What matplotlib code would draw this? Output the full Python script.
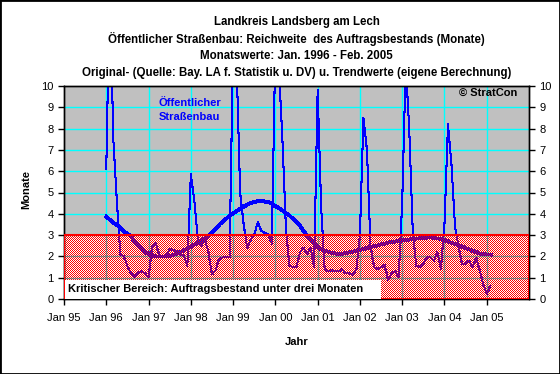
import numpy as np
import matplotlib
matplotlib.use('Agg')
import matplotlib.pyplot as plt
from matplotlib.patches import Rectangle

plt.rcParams['font.family'] = ['Liberation Sans', 'DejaVu Sans']

# Monthly original values (Reichweite in Monaten), Jan 1996 - Feb 2005
vals_1996 = [6.1, 15.0, 7.5, 4.6, 2.1, 2.0, 1.55, 1.2, 1.05, 1.25, 1.3, 1.2]
vals_1997 = [1.0, 2.45, 2.65, 2.1, 1.95, 2.0, 2.35, 2.3, 2.25, 2.1, 2.05, 1.55]
vals_1998 = [5.85, 4.6, 2.8, 2.5, 2.8, 2.2, 1.15, 1.35, 1.85, 1.95, 1.95, 1.95]
vals_1999 = [12.0, 11.0, 5.0, 3.5, 2.4, 2.8, 3.0, 3.6, 3.2, 3.1, 3.05, 2.6]
vals_2000 = [12.0, 10.8, 7.5, 3.3, 1.55, 1.5, 1.5, 2.2, 2.4, 2.1, 2.4, 1.5]
vals_2001 = [9.8, 4.3, 1.4, 1.3, 1.35, 1.3, 1.3, 1.4, 1.2, 1.2, 1.15, 1.4]
vals_2002 = [3.0, 8.5, 7.0, 2.5, 1.5, 1.4, 1.5, 1.6, 0.9, 1.2, 1.3, 1.05]
vals_2003 = [4.5, 11.0, 8.0, 3.2, 1.55, 1.5, 1.65, 1.95, 1.95, 1.8, 2.2, 1.4]
vals_2004 = [3.5, 8.2, 6.3, 3.4, 2.45, 1.65, 1.65, 1.8, 1.5, 1.95, 1.35, 0.7]
vals_2005 = [0.25, 0.6]

original = (vals_1996 + vals_1997 + vals_1998 + vals_1999 + vals_2000 +
            vals_2001 + vals_2002 + vals_2003 + vals_2004 + vals_2005)
months = 1996 + np.arange(len(original)) / 12.0

# Trend, decimal year -> months
trend_time = [1996.0, 1996.16, 1996.32, 1996.44, 1996.56, 1996.72, 1996.87,
              1997.03, 1997.19, 1997.35, 1997.51, 1997.66, 1997.82, 1997.98,
              1998.45, 1998.69, 1998.92, 1999.16, 1999.40, 1999.63, 1999.87,
              2000.11, 2000.34, 2000.58, 2000.74, 2000.89, 2001.05, 2001.29,
              2001.52, 2001.76, 2002.0, 2002.23, 2002.71, 2003.18, 2003.65,
              2003.96, 2004.24, 2004.36, 2004.55, 2004.87, 2005.11]
trend_vals = [3.86, 3.6, 3.37, 3.13, 3.0, 2.58, 2.27,
              2.08, 1.99, 1.99, 2.03, 2.11, 2.27, 2.43,
              3.0, 3.52, 3.91, 4.23, 4.5, 4.62, 4.53,
              4.23, 3.91, 3.44, 3.0, 2.66, 2.35, 2.19,
              2.11, 2.19, 2.3, 2.43, 2.66, 2.8, 2.9,
              2.8, 2.58, 2.5, 2.35, 2.11, 2.08]

crit_level = 3
year_ticks = list(range(1995, 2006))
year_labels = ['Jan %02d' % (y % 100) for y in year_ticks]

fig = plt.figure(figsize=(5.6, 3.74), dpi=100)
ax = fig.add_axes([64 / 560, 75 / 374, 465 / 560, 213 / 374])
ax.set_facecolor('#c0c0c0')
ax.set_xlim(1995, 2006)
ax.set_ylim(0, 10)

# white base below the red critical zone
ax.add_patch(Rectangle((1995, 0), 11, crit_level, facecolor='white',
                       edgecolor='none', zorder=0.5))

# cyan grid
for y in range(1, 10):
    ax.axhline(y, color='#00ffff', lw=1.0, zorder=1)
for x in year_ticks[1:]:
    ax.axvline(x, color='#00ffff', lw=1.0, zorder=1)

ax.plot(months, original, color='#0000ff', lw=0.75, zorder=2,
        antialiased=False)
ax.plot(trend_time, trend_vals, color='#0000ff', lw=2.0, zorder=3,
        antialiased=False)

ax.set_xticks(year_ticks)
ax.set_xticklabels(year_labels)
ax.set_yticks(range(0, 11))
ax.tick_params(direction='out', length=4, labelsize=8, width=1)
ax.tick_params(axis='x', pad=6)

# second axes on top: right ticks + overlays above the dither pattern
ax2 = ax.twinx()
ax2.set_ylim(0, 10)
ax2.set_yticks(range(0, 11))
ax2.tick_params(direction='out', length=4, labelsize=8, width=1)
ax.set_zorder(0)
ax2.set_zorder(2)

# dithered red pattern (like the excel pattern fill), placed 1:1 in pixels
x0, y0 = ax.transData.transform((1995, 0))
x1, y1 = ax.transData.transform((2006, crit_level))
w, h = int(round(x1 - x0)), int(round(y1 - y0))
ii, jj = np.indices((h, w))
checker = np.zeros((h, w, 4))
checker[(ii + jj) % 2 == 0] = [1.0, 0.0, 0.0, 1.0]
fig.figimage(checker, xo=int(round(x0)), yo=int(round(y0)), origin='lower',
             zorder=1)

ax2.add_patch(Rectangle((1995, 0), 11, crit_level, fill=False,
                        edgecolor='#ff0000', lw=1.5, zorder=5))

# label box for the critical zone
ax2.add_patch(Rectangle((0.003, 0.0), 0.679, 0.089, transform=ax2.transAxes,
                        facecolor='white', edgecolor='none', zorder=6))
ax2.text(0.009, 0.046, 'Kritischer Bereich: Auftragsbestand unter drei Monaten',
         transform=ax2.transAxes, fontsize=8, fontweight='bold', va='center',
         ha='left', zorder=7)

ax2.text(0.204, 0.944, 'Öffentlicher\nStraßenbau', transform=ax2.transAxes,
         color='#0000ff', fontsize=8, fontweight='bold', va='top', ha='left',
         linespacing=1.45, zorder=7)
ax2.text(0.974, 0.967, '© StratCon', transform=ax2.transAxes, fontsize=8,
         fontweight='bold', va='center', ha='right', zorder=7)

for a in (ax, ax2):
    for s in a.spines.values():
        s.set_color('black')
        s.set_linewidth(1)

ax.set_ylabel('Monate', fontsize=8, fontweight='bold')
ax.yaxis.set_label_coords(-0.071, 0.512)
ax.set_xlabel('Jahr', fontsize=8, fontweight='bold')
ax.xaxis.set_label_coords(0.5, -0.18)

title_lines = ['Landkreis Landsberg am Lech',
               'Öffentlicher Straßenbau: Reichweite  des Auftragsbestands (Monate)',
               'Monatswerte: Jan. 1996 - Feb. 2005',
               'Original- (Quelle: Bay. LA f. Statistik u. DV) u. Trendwerte (eigene Berechnung)']
for i, line in enumerate(title_lines):
    fig.text(296.5 / 560, 1 - (22 + i * 17) / 374, line, fontsize=8.3,
             fontweight='bold', ha='center', va='center')

fig.patches.append(Rectangle((0, 0), 1, 1, transform=fig.transFigure,
                             fill=False, edgecolor='black', lw=2))

fig.savefig('out.png', dpi=100)
